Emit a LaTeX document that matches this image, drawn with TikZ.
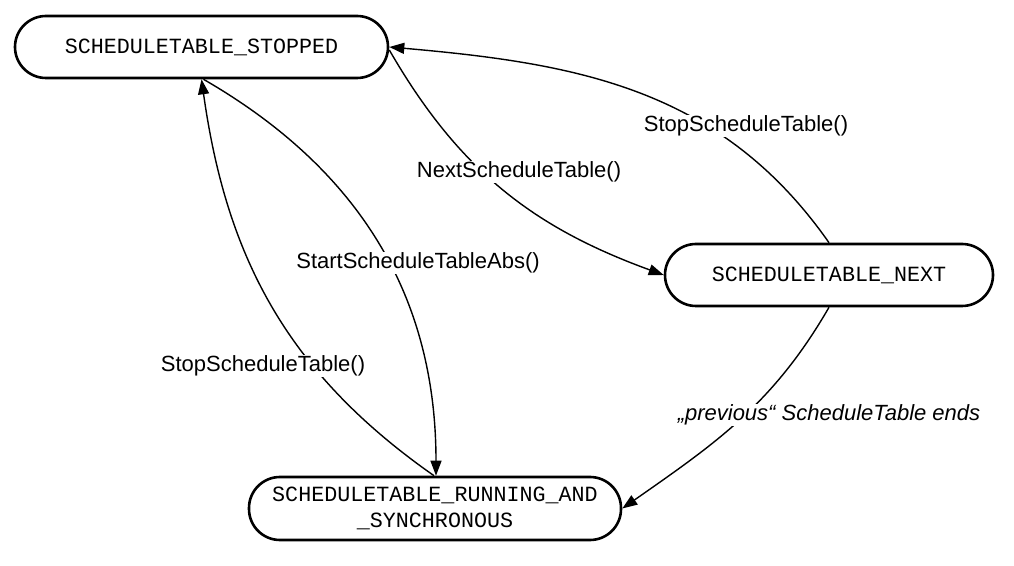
\documentclass[tikz,border=0pt]{standalone}
\usepackage{fontspec}
\setmainfont{Liberation Sans}
\newfontfamily\monofam{Liberation Mono}
\usetikzlibrary{arrows.meta}
\begin{document}
\begin{tikzpicture}[x=1pt,y=1pt,
  state/.style={draw, line width=2.6pt, rounded corners=31pt, inner sep=0pt,
     font=\monofam\fontsize{21.7}{26}\selectfont, align=center},
  conn/.style={line width=1.4pt, -{Triangle[length=15pt,width=11pt]}},
  lab/.style={fill=white, inner sep=1pt, font=\fontsize{22}{26}\selectfont}]
\useasboundingbox (0,0) rectangle (1014,565);
\node[state, minimum width=373pt, minimum height=62pt] (stopped) at (201.5,518) {SCHEDULETABLE\_STOPPED};
\node[state, minimum width=328pt, minimum height=62pt] (next) at (829,290) {SCHEDULETABLE\_NEXT};
\node[state, minimum width=372pt, minimum height=63pt] (running) at (435,56.5) {SCHEDULETABLE\_RUNNING\_AND\\\_SYNCHRONOUS};
\coordinate (sE) at ([yshift=-3pt]stopped.east);
\draw[conn] (sE) to[out=-60,in=160] (next.west);
\draw[conn] (next.north) to[out=125,in=-5] (stopped.east);
\draw[conn] ([xshift=2pt]stopped.south) to[out=-30,in=90] ([xshift=1pt]running.north);
\draw[conn] ([xshift=-1pt]running.north) to[out=145,in=-82] (stopped.south);
\draw[conn] (next.south) to[out=-120,in=35] (running.east);
\node[lab] (l1) at (519,393) {NextScheduleTable()};
\node[lab] (l2) at (746,439) {StopScheduleTable()};
\node[lab] (l3) at (418,302) {StartScheduleTableAbs()};
\node[lab] (l4) at (263,199) {StopScheduleTable()};
\node[lab, font=\fontsize{22}{26}\selectfont\itshape] (l5) at (829,150) {„previous“ ScheduleTable ends};
\end{tikzpicture}
\end{document}
